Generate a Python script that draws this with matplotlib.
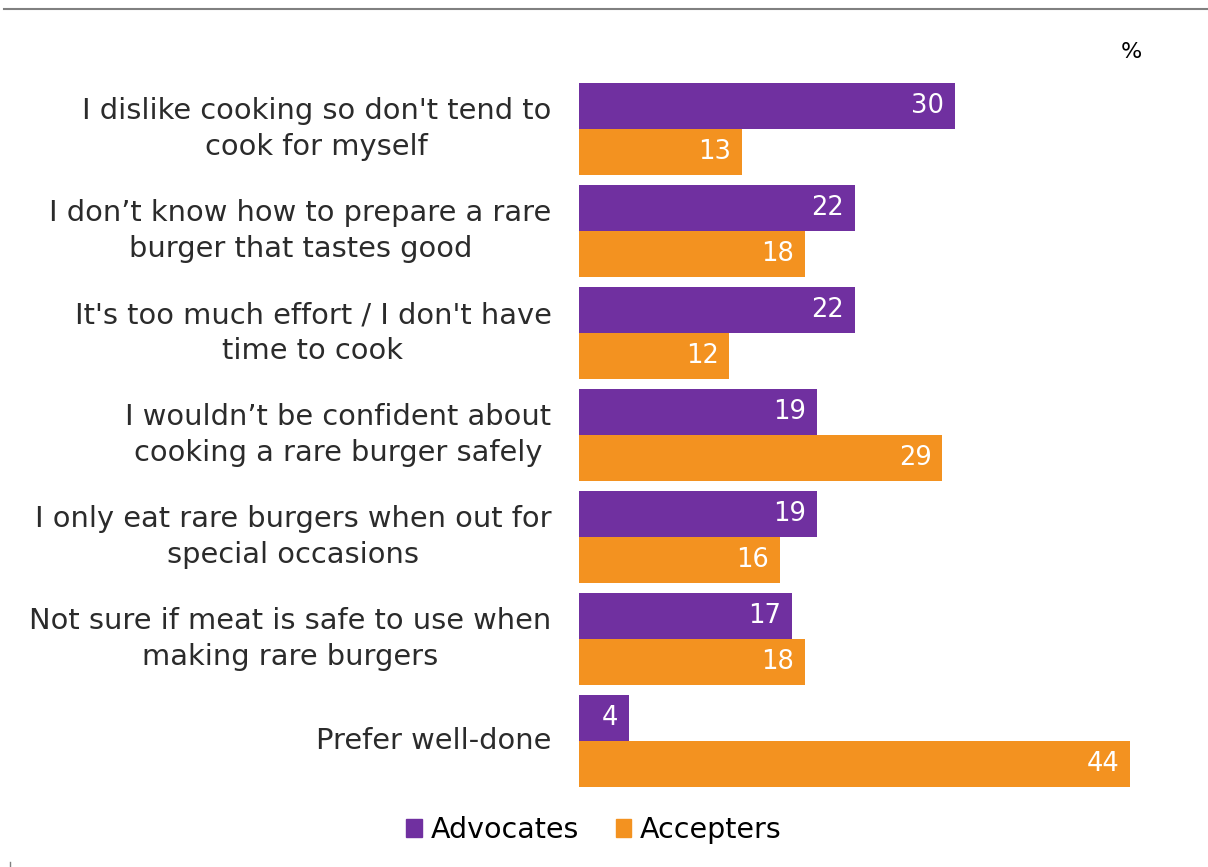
import matplotlib
matplotlib.use("Agg")
import matplotlib.pyplot as plt
from matplotlib.patches import Patch
from matplotlib.lines import Line2D

# reasons for not cooking rare burgers at home, by segment (%)
reasons = [
    "I dislike cooking so don't tend to\ncook for myself",
    "I don\u2019t know how to prepare a rare\nburger that tastes good",
    "It's too much effort / I don't have\ntime to cook",
    "I wouldn\u2019t be confident about\ncooking a rare burger safely",
    "I only eat rare burgers when out for\nspecial occasions",
    "Not sure if meat is safe to use when\nmaking rare burgers",
    "Prefer well-done",
]
advocates = [30, 22, 22, 19, 19, 17, 4]
accepters = [13, 18, 12, 29, 16, 18, 44]

PURPLE = "#7030a0"
ORANGE = "#f39220"
TEXT = "#2b2b2b"

W, H = 1208, 867
fig = plt.figure(figsize=(W / 100, H / 100), dpi=100)
plt.rcParams["font.family"] = ["DejaVu Sans"]

# axes placed in pixel terms
x0, x1 = 579, 1205.6
y_top, y_bot = 80, 790
ax = fig.add_axes([x0 / W, 1 - y_bot / H, (x1 - x0) / W, (y_bot - y_top) / H])
ax.set_xlim(0, 50)
top = -(129 - y_top) / 102
ax.set_ylim(top + (y_bot - y_top) / 102, top)

bh = 0.455
for i, (a, c) in enumerate(zip(advocates, accepters)):
    ax.barh(i - bh / 2, a, height=bh, color=PURPLE)
    ax.barh(i + bh / 2, c, height=bh, color=ORANGE)
    ax.text(a - 0.85, i - bh / 2, str(a), color="white", fontsize=18.5,
            ha="right", va="center")
    ax.text(c - 0.85, i + bh / 2, str(c), color="white", fontsize=18.5,
            ha="right", va="center")
    ax.text(-2.2, i, reasons[i], fontsize=20.8, ha="right", va="center",
            multialignment="center", linespacing=1.33, color=TEXT)

ax.axis("off")

fig.text(1131 / W, 1 - 52 / H, "%", fontsize=16, ha="center", va="center", color="black")

# thin rule across the top
fig.add_artist(Line2D([4 / W, 1], [1 - 9 / H, 1 - 9 / H], color="#808080", lw=1.5))
fig.add_artist(Line2D([10 / W, 10 / W], [1 - 862 / H, 1 - 867 / H], color="#808080", lw=1))

handles = [Patch(color=PURPLE, label="Advocates"), Patch(color=ORANGE, label="Accepters")]
fig.legend(handles=handles, loc="center", bbox_to_anchor=(594 / W, 1 - 830 / H),
           ncol=2, frameon=False, fontsize=20.5, handlelength=0.55, handleheight=0.55,
           handletextpad=0.3, columnspacing=1.3, labelcolor="black")

fig.savefig("out.png", dpi=100)
